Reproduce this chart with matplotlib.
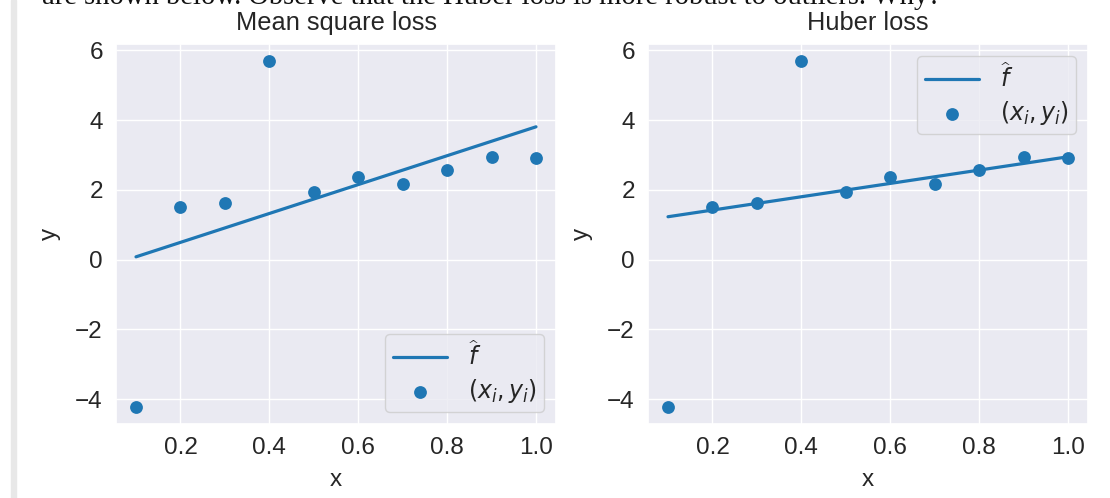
import matplotlib
matplotlib.use('Agg')
import matplotlib.pyplot as plt
import seaborn as sns
from matplotlib.patches import Rectangle

# datos
x = [0.1, 0.2, 0.3, 0.4, 0.5, 0.6, 0.7, 0.8, 0.9, 1.0]
y = [-4.22, 1.50, 1.63, 5.69, 1.95, 2.36, 2.16, 2.57, 2.93, 2.92]
x_linea = [0.1, 1.0]
f_mse = [0.08, 3.81]
f_huber = [1.23, 2.95]
titulos = ['Mean square loss', 'Huber loss']
texto_arriba = 'are shown below. Observe that the Huber loss is more robust to outliers. Why?'

sns.set_theme(style='darkgrid')
plt.rcParams['font.family'] = ['Liberation Sans', 'DejaVu Sans']
plt.rcParams['mathtext.fontset'] = 'dejavusans'

AZUL = '#1f77b4'
TEXTO = '#262626'

fig = plt.figure(figsize=(11.1, 4.98), dpi=100)
ax1 = fig.add_axes([116 / 1110, 74 / 498, 440 / 1110, 380 / 498])
ax2 = fig.add_axes([648 / 1110, 74 / 498, 440 / 1110, 380 / 498])

# barra gris del notebook y texto cortado arriba
fig.patches.append(Rectangle((11 / 1110, 0), 5 / 1110, 1, transform=fig.transFigure,
                             color='#e8e8e8', zorder=0))
fig.text(42 / 1110, 1 - 4 / 498, texto_arriba, family='Liberation Serif', fontsize=20.6,
         color='#111111', va='baseline', ha='left')

for ax, f, titulo, loc in [(ax1, f_mse, titulos[0], 'lower right'),
                           (ax2, f_huber, titulos[1], 'upper right')]:
    ax.plot(x_linea, f, color=AZUL, lw=2.3, label=r'$\widehat{f}$')
    ax.scatter(x, y, color=AZUL, s=85, zorder=3, linewidths=0, label=r'$(x_i, y_i)$')
    ax.set_title(titulo, fontsize=18.3, pad=10, color=TEXTO)
    ax.set_xlabel('x', fontsize=17.5, color=TEXTO, labelpad=7)
    ax.set_ylabel('y', fontsize=17.5, color=TEXTO, labelpad=10)
    ax.set_xticks([0.2, 0.4, 0.6, 0.8, 1.0])
    ax.set_yticks([-4, -2, 0, 2, 4, 6])
    ax.tick_params(labelsize=17.5, labelcolor=TEXTO)
    leg = ax.legend(loc=loc, fontsize=17, borderpad=0.3, handlelength=2.3,
                    handletextpad=0.9, labelspacing=0.3, borderaxespad=0.5)
    for t in leg.get_texts():
        t.set_color(TEXTO)

fig.savefig('out.png', dpi=100)
